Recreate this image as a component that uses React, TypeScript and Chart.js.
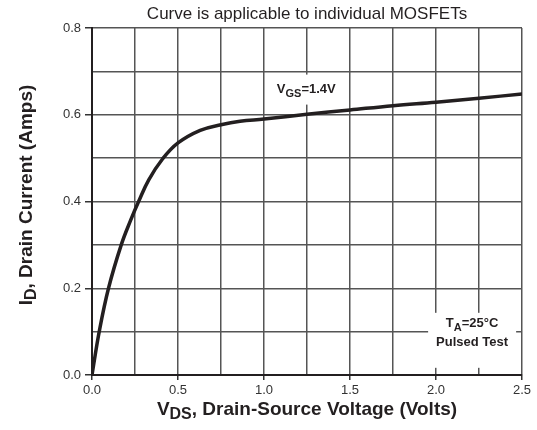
import React, { useEffect, useRef } from "react";
import { Chart, registerables } from "chart.js";

Chart.register(...registerables);

// Data (VGS = 1.4 V)
const vdsVolts = [0, 0.042, 0.096, 0.17, 0.226, 0.271, 0.33, 0.41, 0.5, 0.629, 0.75, 0.861, 1.0, 1.25, 1.5, 1.75, 2.0, 2.25, 2.5];
const idAmps = [0, 0.1, 0.2, 0.3, 0.358, 0.4, 0.45, 0.498, 0.535, 0.564, 0.577, 0.585, 0.59, 0.601, 0.611, 0.621, 0.629, 0.638, 0.648];

const titleText = "Curve is applicable to individual MOSFETs";
const xTitleParts = [{ t: "V" }, { t: "DS", sub: true }, { t: ", Drain-Source Voltage (Volts)" }];
const yTitleParts = [{ t: "I" }, { t: "D", sub: true }, { t: ", Drain Current (Amps)" }];
const vgsParts = [{ t: "V" }, { t: "GS", sub: true }, { t: "=1.4V" }];
const taParts = [{ t: "T" }, { t: "A", sub: true }, { t: "=25°C" }];
const pulsedText = "Pulsed Test";

const FONT = '"Liberation Sans", Arial, Helvetica, sans-serif';
const INK = "#231f20";

type Part = { t: string; sub?: boolean };

function measureRich(ctx: CanvasRenderingContext2D, parts: Part[], size: number, subSize: number) {
  let w = 0;
  for (const p of parts) {
    ctx.font = `bold ${p.sub ? subSize : size}px ${FONT}`;
    w += ctx.measureText(p.t).width;
  }
  return w;
}

function drawRich(
  ctx: CanvasRenderingContext2D,
  parts: Part[],
  cx: number,
  cy: number,
  size: number,
  subSize: number,
  subShift: number
) {
  const w = measureRich(ctx, parts, size, subSize);
  let x = cx - w / 2;
  ctx.textAlign = "left";
  ctx.textBaseline = "middle";
  for (const p of parts) {
    ctx.font = `bold ${p.sub ? subSize : size}px ${FONT}`;
    ctx.fillText(p.t, x, p.sub ? cy + subShift : cy);
    x += ctx.measureText(p.t).width;
  }
}

const annotationPlugin = {
  id: "mosfetAnnotations",
  beforeDatasetsDraw(chart: any) {
    const ctx: CanvasRenderingContext2D = chart.ctx;
    const xs = chart.scales.x;
    const ys = chart.scales.y;
    ctx.save();
    ctx.fillStyle = INK;
    // VGS label with white box
    {
      const cx = xs.getPixelForValue(1.246);
      const cy = ys.getPixelForValue(0.658);
      ctx.fillStyle = "#ffffff";
      ctx.fillRect(cx - 37, cy - 15, 74, 30);
      ctx.fillStyle = INK;
      drawRich(ctx, vgsParts, cx, cy, 13, 11, 4);
    }
    // TA label with white box
    {
      const cx = xs.getPixelForValue(2.21);
      const cy1 = ys.getPixelForValue(0.118);
      const cy2 = ys.getPixelForValue(0.074);
      ctx.fillStyle = "#ffffff";
      ctx.fillRect(cx - 44, cy1 - 11, 88, 55);
      ctx.fillStyle = INK;
      drawRich(ctx, taParts, cx, cy1, 13, 11, 4);
      ctx.font = `bold 13px ${FONT}`;
      ctx.textAlign = "center";
      ctx.textBaseline = "middle";
      ctx.fillText(pulsedText, cx, cy2);
    }
    ctx.restore();
  },
  afterDraw(chart: any) {
    const ctx: CanvasRenderingContext2D = chart.ctx;
    const area = chart.chartArea;
    ctx.save();
    // Title
    ctx.fillStyle = "#231f20";
    ctx.font = `17px ${FONT}`;
    ctx.textAlign = "center";
    ctx.textBaseline = "middle";
    ctx.fillText(titleText, (area.left + area.right) / 2, 14);
    // X axis title
    drawRich(ctx, xTitleParts, (area.left + area.right) / 2, 410, 19, 16, 5);
    // Y axis title
    ctx.translate(27, 195);
    ctx.rotate(-Math.PI / 2);
    drawRich(ctx, yTitleParts, 0, 0, 19, 16, 5);
    ctx.restore();
  },
};

export default function App() {
  const canvasRef = useRef<HTMLCanvasElement | null>(null);

  useEffect(() => {
    const canvas = canvasRef.current;
    if (!canvas) return;
    const isMajorX = (v: number) => Math.round(v * 4) % 2 === 0;
    const isMajorY = (v: number) => Math.round(v * 10) % 2 === 0;
    const chart = new Chart(canvas, {
      type: "line",
      data: {
        datasets: [
          {
            data: vdsVolts.map((x, i) => ({ x, y: idAmps[i] })),
            borderColor: INK,
            borderWidth: 3.5,
            pointRadius: 0,
            fill: false,
            tension: 0.4,
          },
        ],
      },
      options: {
        responsive: false,
        animation: false,
        layout: { padding: { top: 28, right: 15, left: 0, bottom: 0 } },
        plugins: {
          legend: { display: false },
          title: { display: false },
          tooltip: { enabled: false },
        },
        scales: {
          x: {
            type: "linear",
            min: 0,
            max: 2.5,
            afterFit: (s: any) => {
              s.height = 55;
            },
            ticks: {
              stepSize: 0.25,
              autoSkip: false,
              maxRotation: 0,
              padding: 3,
              color: "#333333",
              font: { family: FONT, size: 13 },
              callback: (v: any) => (isMajorX(Number(v)) ? Number(v).toFixed(1) : ""),
            },
            grid: {
              color: "#555555",
              lineWidth: 1.5,
              tickLength: 5,
              tickColor: (c: any) => (c.tick && isMajorX(c.tick.value) ? "#333333" : "rgba(0,0,0,0)"),
            },
            border: { color: INK, width: 2 },
          },
          y: {
            type: "linear",
            min: 0,
            max: 0.8,
            afterFit: (s: any) => {
              s.width = 92;
            },
            ticks: {
              stepSize: 0.1,
              autoSkip: false,
              padding: 4,
              color: "#333333",
              font: { family: FONT, size: 13 },
              callback: (v: any) => (isMajorY(Number(v)) ? Number(v).toFixed(1) : ""),
            },
            grid: {
              color: "#555555",
              lineWidth: 1.5,
              tickLength: 7,
              tickColor: (c: any) => (c.tick && isMajorY(c.tick.value) ? "#333333" : "rgba(0,0,0,0)"),
            },
            border: { color: INK, width: 2 },
          },
        },
      },
      plugins: [annotationPlugin],
    });
    return () => chart.destroy();
  }, []);

  return (
    <div style={{ position: "fixed", left: 0, top: 0, width: 537, height: 430, background: "#fff" }}>
      <canvas ref={canvasRef} width={537} height={430} style={{ display: "block" }} />
    </div>
  );
}
